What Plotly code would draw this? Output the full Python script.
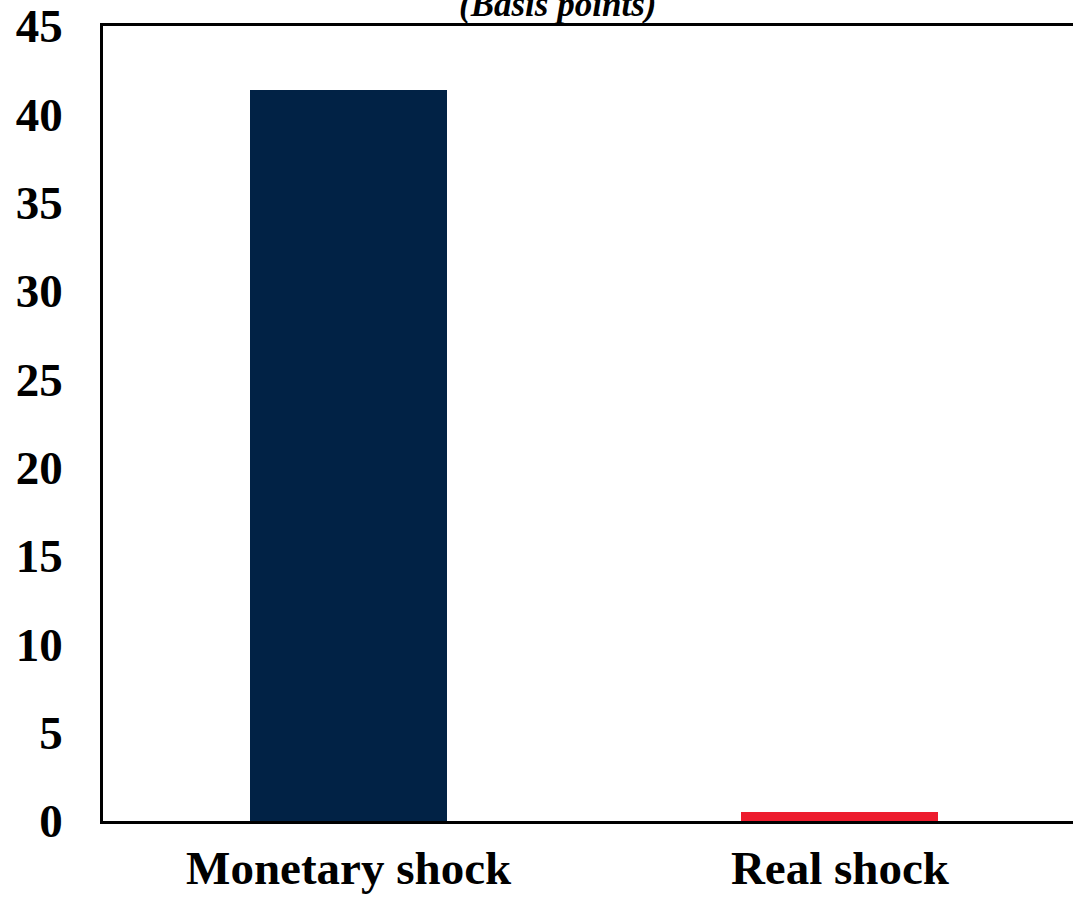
import plotly.graph_objects as go

categories = ["Monetary shock", "Real shock"]
values = [41.4, 0.5]
bar_colors = ["#012245", "#ED1C2E"]
y_ticks = [0, 5, 10, 15, 20, 25, 30, 35, 40, 45]
title_text = "(Basis points)"

fig = go.Figure()
fig.add_trace(go.Bar(
    x=categories, y=values, marker=dict(color=bar_colors, line=dict(width=0)),
    width=0.401, showlegend=False,
))

font_family = "Liberation Serif, Times New Roman, serif"

fig.update_layout(
    width=1073, height=901,
    margin=dict(l=103, r=0, t=24, b=80),
    paper_bgcolor="white", plot_bgcolor="white",
    font=dict(family=font_family, color="black"),
    bargap=0,
    xaxis=dict(
        type="category", range=[-0.5, 1.4745],
        showline=True, linecolor="black", linewidth=2.5, mirror=True,
        showgrid=False, ticks="", zeroline=False,
        tickfont=dict(family=font_family, size=47, weight="bold", color="black"),
        ticklabelstandoff=4,
    ),
    yaxis=dict(
        range=[0, 45], tickvals=y_ticks, ticktext=[str(v) for v in y_ticks],
        showline=True, linecolor="black", linewidth=2.5,
        showgrid=False, ticks="", zeroline=False,
        tickfont=dict(family=font_family, size=47, weight="bold", color="black"),
        ticklabelstandoff=28, ticklabeloverflow="allow",
    ),
)

fig.add_annotation(
    text="<b><i>" + title_text + "</i></b>", xref="paper", yref="paper",
    x=0.4685, y=1.0, yanchor="bottom", xanchor="center", showarrow=False,
    font=dict(family=font_family, size=35, color="black"),
)

fig.write_html("out.html")
